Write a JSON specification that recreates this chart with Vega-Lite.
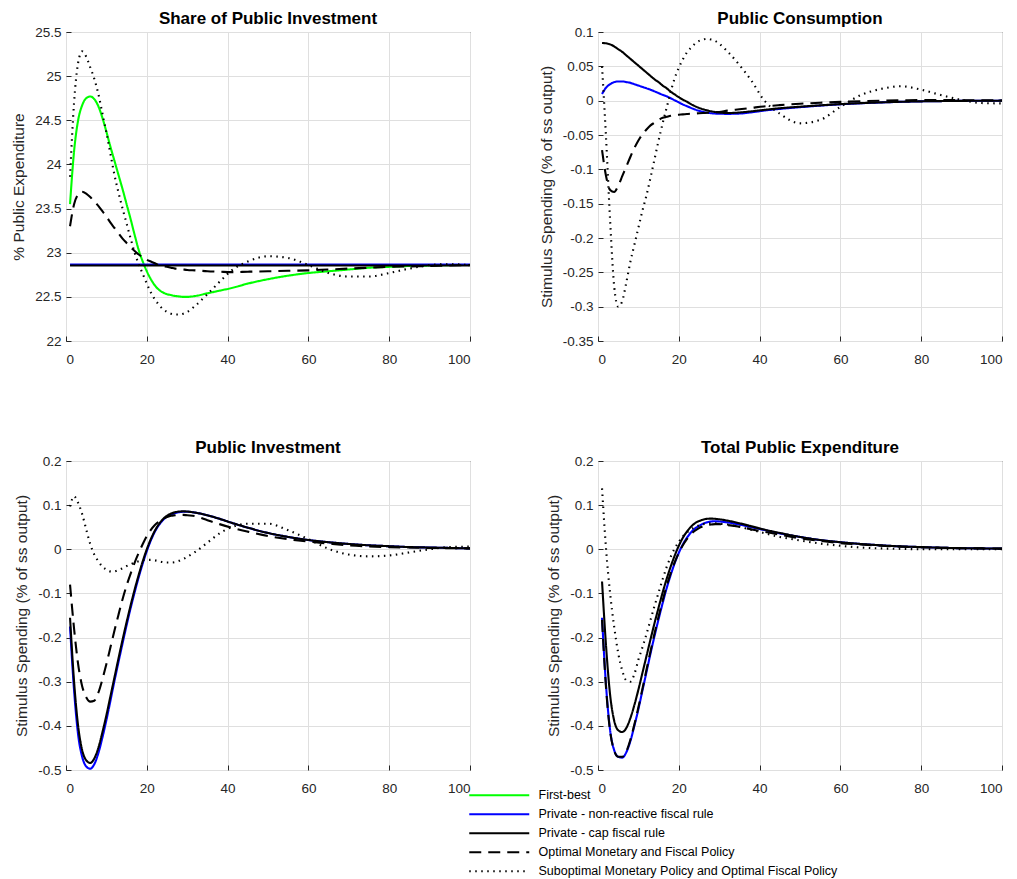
{
  "$schema": "https://vega.github.io/schema/vega-lite/v6.json",
  "padding": {"left": 11, "top": 9, "right": 5, "bottom": 5},
  "config": {
    "font": "Liberation Sans",
    "locale": {"number": {"decimal": ".", "thousands": ",", "grouping": [3], "currency": ["$", ""], "minus": "-"}},
    "view": {"stroke": "#262626", "strokeWidth": 1},
    "axis": {
      "grid": true, "gridColor": "#dfdfdf", "gridWidth": 1, "domain": false,
      "ticks": true, "tickSize": -5, "tickColor": "#262626", "tickWidth": 1,
      "labelFont": "Liberation Sans", "labelFontSize": 13.5, "labelColor": "#262626",
      "titleFont": "Liberation Sans", "titleFontSize": 15.5, "titleFontWeight": "normal", "titleColor": "#262626",
      "titlePadding": 8
    },
    "axisX": {"labelPadding": 16},
    "axisY": {"labelPadding": 10},
    "title": {"font": "Liberation Sans", "fontSize": 17, "fontWeight": "bold", "color": "#000000", "offset": -3},
    "legend": {
      "title": null, "symbolType": "M-1,0H19", "symbolSize": 36, "symbolStrokeWidth": 2,
      "labelFont": "Liberation Sans", "labelFontSize": 12.5, "labelColor": "#000000", "labelOffset": 60,
      "labelLimit": 0, "rowPadding": 6
    },
    "line": {"strokeWidth": 2.1, "interpolate": "monotone"}
  },
  "datasets": {
    "names": [
      {"code": "fb", "series": "First-best"},
      {"code": "nr", "series": "Private - non-reactive fiscal rule"},
      {"code": "cap", "series": "Private - cap fiscal rule"},
      {"code": "opt", "series": "Optimal Monetary and Fiscal Policy"},
      {"code": "sub", "series": "Suboptimal Monetary Policy and Optimal Fiscal Policy"}
    ],
    "p1": [
      {"t":1,"fb":23.55,"nr":22.865,"cap":22.855,"opt":23.3,"sub":23.86},
      {"t":2,"fb":24.15,"nr":22.865,"cap":22.855,"opt":23.55,"sub":24.7},
      {"t":3,"fb":24.5,"nr":22.865,"cap":22.855,"opt":23.66,"sub":25.15},
      {"t":4,"fb":24.67,"nr":22.865,"cap":22.855,"opt":23.69,"sub":25.28},
      {"t":5,"fb":24.75,"nr":22.865,"cap":22.855,"opt":23.67,"sub":25.22},
      {"t":6,"fb":24.77,"nr":22.865,"cap":22.855,"opt":23.63,"sub":25.1},
      {"t":7,"fb":24.74,"nr":22.865,"cap":22.855,"opt":23.58,"sub":24.97},
      {"t":8,"fb":24.66,"nr":22.865,"cap":22.855,"opt":23.53,"sub":24.8},
      {"t":9,"fb":24.53,"nr":22.865,"cap":22.855,"opt":23.47,"sub":24.58},
      {"t":10,"fb":24.37,"nr":22.865,"cap":22.855,"opt":23.41,"sub":24.36},
      {"t":11,"fb":24.2,"nr":22.865,"cap":22.855,"opt":23.34,"sub":24.12},
      {"t":12,"fb":24.04,"nr":22.865,"cap":22.855,"opt":23.28,"sub":23.88},
      {"t":13,"fb":23.88,"nr":22.865,"cap":22.855,"opt":23.22,"sub":23.68},
      {"t":14,"fb":23.72,"nr":22.865,"cap":22.855,"opt":23.16,"sub":23.5},
      {"t":15,"fb":23.55,"nr":22.865,"cap":22.855,"opt":23.11,"sub":23.33},
      {"t":16,"fb":23.38,"nr":22.865,"cap":22.855,"opt":23.06,"sub":23.16},
      {"t":17,"fb":23.2,"nr":22.865,"cap":22.855,"opt":23.02,"sub":23.0},
      {"t":18,"fb":23.03,"nr":22.865,"cap":22.855,"opt":22.98,"sub":22.87},
      {"t":19,"fb":22.9,"nr":22.865,"cap":22.855,"opt":22.95,"sub":22.76},
      {"t":20,"fb":22.79,"nr":22.865,"cap":22.855,"opt":22.92,"sub":22.65},
      {"t":21,"fb":22.7,"nr":22.865,"cap":22.855,"opt":22.9,"sub":22.55},
      {"t":22,"fb":22.63,"nr":22.865,"cap":22.855,"opt":22.88,"sub":22.47},
      {"t":23,"fb":22.58,"nr":22.865,"cap":22.855,"opt":22.86,"sub":22.41},
      {"t":24,"fb":22.55,"nr":22.865,"cap":22.855,"opt":22.85,"sub":22.36},
      {"t":25,"fb":22.53,"nr":22.865,"cap":22.855,"opt":22.84,"sub":22.33},
      {"t":26,"fb":22.52,"nr":22.865,"cap":22.855,"opt":22.83,"sub":22.31},
      {"t":27,"fb":22.51,"nr":22.865,"cap":22.855,"opt":22.82,"sub":22.3},
      {"t":28,"fb":22.505,"nr":22.865,"cap":22.855,"opt":22.815,"sub":22.3},
      {"t":29,"fb":22.5,"nr":22.865,"cap":22.855,"opt":22.81,"sub":22.31},
      {"t":30,"fb":22.5,"nr":22.865,"cap":22.855,"opt":22.805,"sub":22.33},
      {"t":32,"fb":22.51,"nr":22.865,"cap":22.855,"opt":22.8,"sub":22.4},
      {"t":35,"fb":22.54,"nr":22.865,"cap":22.855,"opt":22.79,"sub":22.53},
      {"t":38,"fb":22.57,"nr":22.865,"cap":22.855,"opt":22.785,"sub":22.67},
      {"t":41,"fb":22.6,"nr":22.865,"cap":22.855,"opt":22.78,"sub":22.8},
      {"t":45,"fb":22.65,"nr":22.865,"cap":22.855,"opt":22.785,"sub":22.9},
      {"t":50,"fb":22.7,"nr":22.865,"cap":22.855,"opt":22.79,"sub":22.96},
      {"t":55,"fb":22.74,"nr":22.865,"cap":22.855,"opt":22.795,"sub":22.94},
      {"t":60,"fb":22.77,"nr":22.865,"cap":22.855,"opt":22.8,"sub":22.86},
      {"t":65,"fb":22.79,"nr":22.865,"cap":22.855,"opt":22.81,"sub":22.77},
      {"t":70,"fb":22.81,"nr":22.865,"cap":22.855,"opt":22.82,"sub":22.73},
      {"t":75,"fb":22.83,"nr":22.865,"cap":22.855,"opt":22.83,"sub":22.73},
      {"t":80,"fb":22.84,"nr":22.865,"cap":22.855,"opt":22.84,"sub":22.77},
      {"t":85,"fb":22.85,"nr":22.865,"cap":22.855,"opt":22.845,"sub":22.82},
      {"t":90,"fb":22.855,"nr":22.865,"cap":22.855,"opt":22.85,"sub":22.86},
      {"t":95,"fb":22.86,"nr":22.865,"cap":22.855,"opt":22.855,"sub":22.87},
      {"t":100,"fb":22.86,"nr":22.865,"cap":22.855,"opt":22.86,"sub":22.86}
    ],
    "p2": [
      {"t":1,"nr":0.0097,"cap":0.084,"opt":-0.072,"sub":0.05},
      {"t":2,"nr":0.019,"cap":0.0835,"opt":-0.11,"sub":-0.055},
      {"t":3,"nr":0.024,"cap":0.082,"opt":-0.13,"sub":-0.175},
      {"t":4,"nr":0.027,"cap":0.079,"opt":-0.133,"sub":-0.27},
      {"t":5,"nr":0.028,"cap":0.075,"opt":-0.124,"sub":-0.3},
      {"t":6,"nr":0.028,"cap":0.071,"opt":-0.11,"sub":-0.292},
      {"t":7,"nr":0.027,"cap":0.066,"opt":-0.096,"sub":-0.265},
      {"t":8,"nr":0.026,"cap":0.061,"opt":-0.082,"sub":-0.235},
      {"t":9,"nr":0.024,"cap":0.056,"opt":-0.069,"sub":-0.21},
      {"t":10,"nr":0.022,"cap":0.051,"opt":-0.058,"sub":-0.185},
      {"t":11,"nr":0.02,"cap":0.046,"opt":-0.049,"sub":-0.16},
      {"t":12,"nr":0.018,"cap":0.041,"opt":-0.042,"sub":-0.138},
      {"t":13,"nr":0.016,"cap":0.036,"opt":-0.036,"sub":-0.112},
      {"t":14,"nr":0.0135,"cap":0.031,"opt":-0.032,"sub":-0.085},
      {"t":15,"nr":0.011,"cap":0.027,"opt":-0.028,"sub":-0.058},
      {"t":16,"nr":0.0085,"cap":0.022,"opt":-0.025,"sub":-0.033},
      {"t":17,"nr":0.0063,"cap":0.018,"opt":-0.0235,"sub":-0.01},
      {"t":18,"nr":0.0035,"cap":0.013,"opt":-0.022,"sub":0.013},
      {"t":19,"nr":0.0005,"cap":0.009,"opt":-0.021,"sub":0.033},
      {"t":20,"nr":-0.0025,"cap":0.005,"opt":-0.0205,"sub":0.048},
      {"t":21,"nr":-0.0055,"cap":0.0015,"opt":-0.02,"sub":0.06},
      {"t":22,"nr":-0.008,"cap":-0.0015,"opt":-0.0195,"sub":0.07},
      {"t":23,"nr":-0.0105,"cap":-0.005,"opt":-0.019,"sub":0.077},
      {"t":24,"nr":-0.0128,"cap":-0.008,"opt":-0.0187,"sub":0.083},
      {"t":25,"nr":-0.0148,"cap":-0.0105,"opt":-0.0184,"sub":0.087},
      {"t":26,"nr":-0.0163,"cap":-0.0125,"opt":-0.018,"sub":0.089},
      {"t":27,"nr":-0.0175,"cap":-0.014,"opt":-0.0176,"sub":0.09},
      {"t":28,"nr":-0.0183,"cap":-0.0155,"opt":-0.0172,"sub":0.089},
      {"t":29,"nr":-0.0188,"cap":-0.0165,"opt":-0.0168,"sub":0.087},
      {"t":30,"nr":-0.019,"cap":-0.0172,"opt":-0.0164,"sub":0.083},
      {"t":32,"nr":-0.0192,"cap":-0.018,"opt":-0.0145,"sub":0.072},
      {"t":35,"nr":-0.0188,"cap":-0.0172,"opt":-0.0125,"sub":0.052},
      {"t":38,"nr":-0.017,"cap":-0.0155,"opt":-0.0105,"sub":0.029},
      {"t":41,"nr":-0.0145,"cap":-0.0135,"opt":-0.0085,"sub":0.0015},
      {"t":45,"nr":-0.012,"cap":-0.011,"opt":-0.0065,"sub":-0.019},
      {"t":50,"nr":-0.0095,"cap":-0.0088,"opt":-0.0045,"sub":-0.033},
      {"t":55,"nr":-0.0072,"cap":-0.0068,"opt":-0.003,"sub":-0.028},
      {"t":60,"nr":-0.0053,"cap":-0.005,"opt":-0.0018,"sub":-0.009},
      {"t":65,"nr":-0.0038,"cap":-0.0036,"opt":-0.0008,"sub":0.008},
      {"t":70,"nr":-0.0026,"cap":-0.0025,"opt":0.0,"sub":0.017},
      {"t":75,"nr":-0.0017,"cap":-0.0016,"opt":0.0005,"sub":0.021},
      {"t":80,"nr":-0.001,"cap":-0.001,"opt":0.0008,"sub":0.016},
      {"t":85,"nr":-0.0006,"cap":-0.0006,"opt":0.0008,"sub":0.008},
      {"t":90,"nr":-0.0003,"cap":-0.0003,"opt":0.0007,"sub":0.001},
      {"t":95,"nr":-0.0001,"cap":-0.0001,"opt":0.0005,"sub":-0.0035},
      {"t":100,"nr":0.0,"cap":0.0,"opt":0.0003,"sub":-0.004}
    ],
    "p3": [
      {"t":1,"nr":-0.175,"cap":-0.155,"opt":-0.08,"sub":0.097},
      {"t":2,"nr":-0.32,"cap":-0.3,"opt":-0.18,"sub":0.12},
      {"t":3,"nr":-0.42,"cap":-0.4,"opt":-0.26,"sub":0.105},
      {"t":4,"nr":-0.47,"cap":-0.455,"opt":-0.31,"sub":0.08},
      {"t":5,"nr":-0.492,"cap":-0.478,"opt":-0.335,"sub":0.045},
      {"t":6,"nr":-0.497,"cap":-0.484,"opt":-0.345,"sub":0.012},
      {"t":7,"nr":-0.487,"cap":-0.474,"opt":-0.343,"sub":-0.012},
      {"t":8,"nr":-0.462,"cap":-0.45,"opt":-0.325,"sub":-0.027},
      {"t":9,"nr":-0.427,"cap":-0.415,"opt":-0.295,"sub":-0.039},
      {"t":10,"nr":-0.387,"cap":-0.376,"opt":-0.26,"sub":-0.046},
      {"t":11,"nr":-0.343,"cap":-0.333,"opt":-0.222,"sub":-0.05},
      {"t":12,"nr":-0.298,"cap":-0.29,"opt":-0.184,"sub":-0.05},
      {"t":13,"nr":-0.255,"cap":-0.247,"opt":-0.148,"sub":-0.047},
      {"t":14,"nr":-0.213,"cap":-0.205,"opt":-0.113,"sub":-0.043},
      {"t":15,"nr":-0.172,"cap":-0.165,"opt":-0.082,"sub":-0.038},
      {"t":16,"nr":-0.133,"cap":-0.127,"opt":-0.055,"sub":-0.034},
      {"t":17,"nr":-0.097,"cap":-0.091,"opt":-0.03,"sub":-0.03},
      {"t":18,"nr":-0.063,"cap":-0.058,"opt":-0.008,"sub":-0.027},
      {"t":19,"nr":-0.032,"cap":-0.027,"opt":0.012,"sub":-0.025},
      {"t":20,"nr":-0.004,"cap":0.0,"opt":0.03,"sub":-0.024},
      {"t":21,"nr":0.02,"cap":0.023,"opt":0.044,"sub":-0.024},
      {"t":22,"nr":0.04,"cap":0.042,"opt":0.055,"sub":-0.025},
      {"t":23,"nr":0.055,"cap":0.057,"opt":0.063,"sub":-0.027},
      {"t":24,"nr":0.066,"cap":0.068,"opt":0.069,"sub":-0.029},
      {"t":25,"nr":0.074,"cap":0.076,"opt":0.073,"sub":-0.03},
      {"t":26,"nr":0.079,"cap":0.081,"opt":0.076,"sub":-0.03},
      {"t":27,"nr":0.082,"cap":0.084,"opt":0.077,"sub":-0.029},
      {"t":28,"nr":0.084,"cap":0.0855,"opt":0.078,"sub":-0.026},
      {"t":29,"nr":0.085,"cap":0.086,"opt":0.078,"sub":-0.022},
      {"t":30,"nr":0.085,"cap":0.0855,"opt":0.077,"sub":-0.017},
      {"t":32,"nr":0.083,"cap":0.083,"opt":0.075,"sub":-0.006},
      {"t":35,"nr":0.077,"cap":0.077,"opt":0.066,"sub":0.015},
      {"t":38,"nr":0.069,"cap":0.069,"opt":0.057,"sub":0.036},
      {"t":41,"nr":0.06,"cap":0.06,"opt":0.049,"sub":0.05},
      {"t":45,"nr":0.049,"cap":0.049,"opt":0.04,"sub":0.058},
      {"t":50,"nr":0.037,"cap":0.037,"opt":0.03,"sub":0.058},
      {"t":55,"nr":0.028,"cap":0.028,"opt":0.023,"sub":0.043},
      {"t":60,"nr":0.021,"cap":0.021,"opt":0.0175,"sub":0.023},
      {"t":65,"nr":0.016,"cap":0.016,"opt":0.013,"sub":0.001},
      {"t":70,"nr":0.012,"cap":0.012,"opt":0.009,"sub":-0.012},
      {"t":75,"nr":0.009,"cap":0.009,"opt":0.0065,"sub":-0.016},
      {"t":80,"nr":0.007,"cap":0.007,"opt":0.005,"sub":-0.014},
      {"t":85,"nr":0.005,"cap":0.005,"opt":0.004,"sub":-0.007},
      {"t":90,"nr":0.004,"cap":0.004,"opt":0.003,"sub":0.0},
      {"t":95,"nr":0.003,"cap":0.003,"opt":0.0025,"sub":0.005},
      {"t":100,"nr":0.002,"cap":0.002,"opt":0.002,"sub":0.006}
    ],
    "p4": [
      {"t":1,"nr":-0.155,"cap":-0.073,"opt":-0.16,"sub":0.138},
      {"t":2,"nr":-0.31,"cap":-0.22,"opt":-0.315,"sub":0.0},
      {"t":3,"nr":-0.41,"cap":-0.33,"opt":-0.412,"sub":-0.1},
      {"t":4,"nr":-0.455,"cap":-0.388,"opt":-0.456,"sub":-0.175},
      {"t":5,"nr":-0.47,"cap":-0.41,"opt":-0.47,"sub":-0.235},
      {"t":6,"nr":-0.472,"cap":-0.414,"opt":-0.47,"sub":-0.275},
      {"t":7,"nr":-0.46,"cap":-0.405,"opt":-0.458,"sub":-0.297},
      {"t":8,"nr":-0.435,"cap":-0.383,"opt":-0.432,"sub":-0.3},
      {"t":9,"nr":-0.4,"cap":-0.353,"opt":-0.397,"sub":-0.283},
      {"t":10,"nr":-0.362,"cap":-0.318,"opt":-0.358,"sub":-0.25},
      {"t":11,"nr":-0.32,"cap":-0.28,"opt":-0.316,"sub":-0.222},
      {"t":12,"nr":-0.278,"cap":-0.242,"opt":-0.273,"sub":-0.192},
      {"t":13,"nr":-0.236,"cap":-0.204,"opt":-0.231,"sub":-0.16},
      {"t":14,"nr":-0.196,"cap":-0.167,"opt":-0.19,"sub":-0.128},
      {"t":15,"nr":-0.158,"cap":-0.132,"opt":-0.152,"sub":-0.098},
      {"t":16,"nr":-0.122,"cap":-0.098,"opt":-0.116,"sub":-0.068},
      {"t":17,"nr":-0.088,"cap":-0.067,"opt":-0.083,"sub":-0.04},
      {"t":18,"nr":-0.058,"cap":-0.039,"opt":-0.054,"sub":-0.017},
      {"t":19,"nr":-0.031,"cap":-0.014,"opt":-0.029,"sub":0.002},
      {"t":20,"nr":-0.008,"cap":0.008,"opt":-0.008,"sub":0.017},
      {"t":21,"nr":0.011,"cap":0.026,"opt":0.009,"sub":0.029},
      {"t":22,"nr":0.026,"cap":0.04,"opt":0.023,"sub":0.038},
      {"t":23,"nr":0.038,"cap":0.051,"opt":0.034,"sub":0.045},
      {"t":24,"nr":0.047,"cap":0.059,"opt":0.042,"sub":0.05},
      {"t":25,"nr":0.053,"cap":0.064,"opt":0.048,"sub":0.054},
      {"t":26,"nr":0.058,"cap":0.067,"opt":0.052,"sub":0.057},
      {"t":27,"nr":0.061,"cap":0.069,"opt":0.055,"sub":0.058},
      {"t":28,"nr":0.063,"cap":0.0695,"opt":0.056,"sub":0.059},
      {"t":29,"nr":0.0635,"cap":0.069,"opt":0.057,"sub":0.059},
      {"t":30,"nr":0.063,"cap":0.068,"opt":0.057,"sub":0.058},
      {"t":32,"nr":0.061,"cap":0.065,"opt":0.055,"sub":0.056},
      {"t":35,"nr":0.056,"cap":0.059,"opt":0.051,"sub":0.051},
      {"t":38,"nr":0.05,"cap":0.052,"opt":0.045,"sub":0.044},
      {"t":41,"nr":0.044,"cap":0.045,"opt":0.04,"sub":0.037},
      {"t":45,"nr":0.036,"cap":0.037,"opt":0.033,"sub":0.028},
      {"t":50,"nr":0.028,"cap":0.028,"opt":0.025,"sub":0.02},
      {"t":55,"nr":0.021,"cap":0.021,"opt":0.019,"sub":0.013},
      {"t":60,"nr":0.016,"cap":0.016,"opt":0.014,"sub":0.008},
      {"t":65,"nr":0.012,"cap":0.012,"opt":0.011,"sub":0.004},
      {"t":70,"nr":0.009,"cap":0.009,"opt":0.008,"sub":0.002},
      {"t":75,"nr":0.0065,"cap":0.0065,"opt":0.006,"sub":0.001},
      {"t":80,"nr":0.005,"cap":0.005,"opt":0.0045,"sub":0.0},
      {"t":85,"nr":0.0035,"cap":0.0035,"opt":0.0035,"sub":0.0},
      {"t":90,"nr":0.0025,"cap":0.0025,"opt":0.0025,"sub":0.0},
      {"t":95,"nr":0.002,"cap":0.002,"opt":0.002,"sub":0.0},
      {"t":100,"nr":0.0015,"cap":0.0015,"opt":0.0015,"sub":0.0}
    ]
  },
  "columns": 2,
  "spacing": {"row": 120, "column": 128},
  "bounds": "flush",
  "concat": [
    {
      "title": "Share of Public Investment",
      "width": 404, "height": 309,
      "data": {"name": "p1"},
      "transform": [
        {"fold": ["fb", "nr", "cap", "opt", "sub"], "as": ["code", "v"]},
        {"filter": "isValid(datum.v)"},
        {"lookup": "code", "from": {"data": {"name": "names"}, "key": "code", "fields": ["series"]}}
      ],
      "mark": {"type": "line"},
      "encoding": {
        "x": {"field": "t", "type": "quantitative", "title": null, "scale": {"domain": [0, 100], "nice": false}, "axis": {"values": [0, 20, 40, 60, 80, 100]}},
        "y": {"field": "v", "type": "quantitative", "title": "% Public Expenditure", "scale": {"domain": [22, 25.5], "nice": false, "zero": false}, "axis": {"values": [22, 22.5, 23, 23.5, 24, 24.5, 25, 25.5], "format": "~g"}},
        "color": {"field": "series", "type": "nominal", "scale": {"domain": ["First-best", "Private - non-reactive fiscal rule", "Private - cap fiscal rule", "Optimal Monetary and Fiscal Policy", "Suboptimal Monetary Policy and Optimal Fiscal Policy"], "range": ["#00ff00", "#0000ff", "#000000", "#000000", "#000000"]}, "legend": {"orient": "none", "legendX": 400, "legendY": 757}},
        "strokeDash": {"field": "series", "type": "nominal", "scale": {"domain": ["First-best", "Private - non-reactive fiscal rule", "Private - cap fiscal rule", "Optimal Monetary and Fiscal Policy", "Suboptimal Monetary Policy and Optimal Fiscal Policy"], "range": [[1, 0], [1, 0], [1, 0], [12, 7], [1.5, 4.5]]}, "legend": {"orient": "none", "legendX": 400, "legendY": 757}}
      }
    },
    {
      "title": "Public Consumption",
      "width": 404, "height": 309,
      "data": {"name": "p2"},
      "transform": [
        {"fold": ["nr", "cap", "opt", "sub"], "as": ["code", "v"]},
        {"filter": "isValid(datum.v)"},
        {"lookup": "code", "from": {"data": {"name": "names"}, "key": "code", "fields": ["series"]}}
      ],
      "mark": {"type": "line"},
      "encoding": {
        "x": {"field": "t", "type": "quantitative", "title": null, "scale": {"domain": [0, 100], "nice": false}, "axis": {"values": [0, 20, 40, 60, 80, 100]}},
        "y": {"field": "v", "type": "quantitative", "title": "Stimulus Spending (% of ss output)", "scale": {"domain": [-0.35, 0.1], "nice": false, "zero": false}, "axis": {"values": [-0.35, -0.3, -0.25, -0.2, -0.15, -0.1, -0.05, 0, 0.05, 0.1], "format": "~g"}},
        "color": {"field": "series", "type": "nominal"},
        "strokeDash": {"field": "series", "type": "nominal"}
      }
    },
    {
      "title": "Public Investment",
      "width": 404, "height": 309,
      "data": {"name": "p3"},
      "transform": [
        {"fold": ["nr", "cap", "opt", "sub"], "as": ["code", "v"]},
        {"filter": "isValid(datum.v)"},
        {"lookup": "code", "from": {"data": {"name": "names"}, "key": "code", "fields": ["series"]}}
      ],
      "mark": {"type": "line"},
      "encoding": {
        "x": {"field": "t", "type": "quantitative", "title": null, "scale": {"domain": [0, 100], "nice": false}, "axis": {"values": [0, 20, 40, 60, 80, 100]}},
        "y": {"field": "v", "type": "quantitative", "title": "Stimulus Spending (% of ss output)", "scale": {"domain": [-0.5, 0.2], "nice": false, "zero": false}, "axis": {"values": [-0.5, -0.4, -0.3, -0.2, -0.1, 0, 0.1, 0.2], "format": "~g"}},
        "color": {"field": "series", "type": "nominal"},
        "strokeDash": {"field": "series", "type": "nominal"}
      }
    },
    {
      "title": "Total Public Expenditure",
      "width": 404, "height": 309,
      "data": {"name": "p4"},
      "transform": [
        {"fold": ["nr", "cap", "opt", "sub"], "as": ["code", "v"]},
        {"filter": "isValid(datum.v)"},
        {"lookup": "code", "from": {"data": {"name": "names"}, "key": "code", "fields": ["series"]}}
      ],
      "mark": {"type": "line"},
      "encoding": {
        "x": {"field": "t", "type": "quantitative", "title": null, "scale": {"domain": [0, 100], "nice": false}, "axis": {"values": [0, 20, 40, 60, 80, 100]}},
        "y": {"field": "v", "type": "quantitative", "title": "Stimulus Spending (% of ss output)", "scale": {"domain": [-0.5, 0.2], "nice": false, "zero": false}, "axis": {"values": [-0.5, -0.4, -0.3, -0.2, -0.1, 0, 0.1, 0.2], "format": "~g"}},
        "color": {"field": "series", "type": "nominal"},
        "strokeDash": {"field": "series", "type": "nominal"}
      }
    }
  ]
}
